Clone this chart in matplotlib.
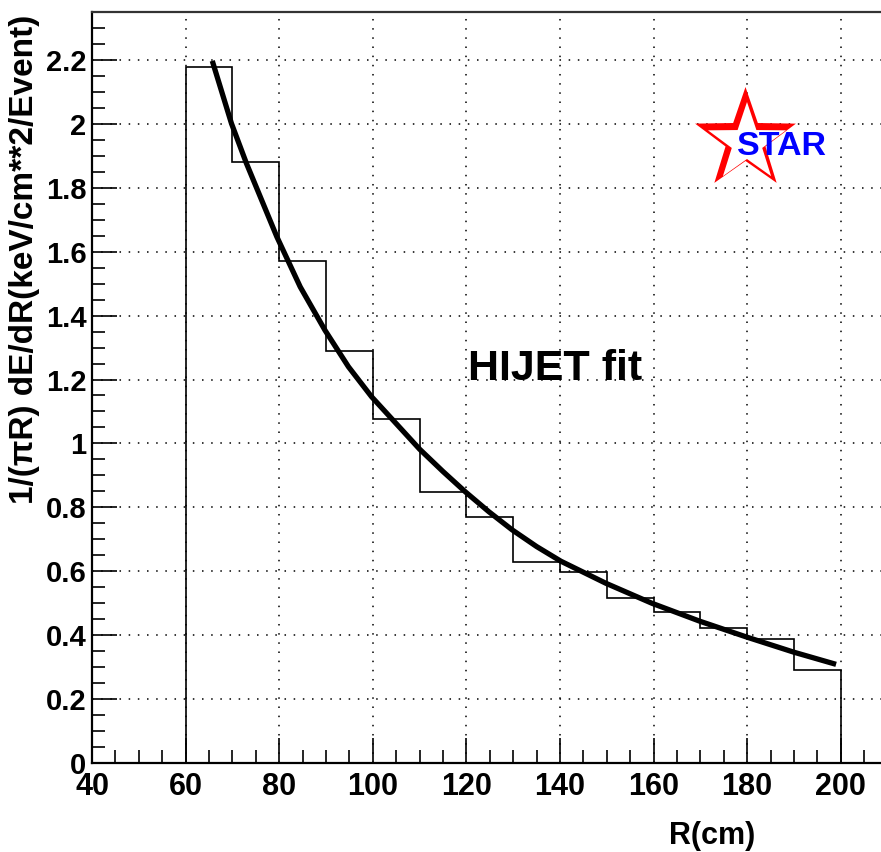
import numpy as np
import matplotlib
matplotlib.use('Agg')
import matplotlib.pyplot as plt
from matplotlib.patches import Polygon
from matplotlib.ticker import MultipleLocator, FuncFormatter

plt.rcParams['font.family'] = ['Liberation Sans', 'DejaVu Sans']
plt.rcParams['font.weight'] = 'bold'

# histogram (10 cm bins from 60 to 200)
bin_edges = [60, 70, 80, 90, 100, 110, 120, 130, 140, 150, 160, 170, 180, 190, 200]
hist_vals = [2.18, 1.88, 1.57, 1.29, 1.077, 0.847, 0.77, 0.627, 0.598, 0.517,
             0.471, 0.421, 0.387, 0.290]

# HIJET fit curve
fit_r = [65.7, 69.8, 73.0, 79.5, 84.5, 89.8, 94.8, 99.75, 105.0, 110.0, 115.0,
         119.8, 124.8, 129.8, 135.0, 140.2, 149.8, 159.7, 169.9, 180.0, 190.0, 199.0]
fit_v = [2.198, 2.002, 1.877, 1.647, 1.49, 1.354, 1.24, 1.146, 1.062, 0.982, 0.912,
         0.848, 0.786, 0.729, 0.677, 0.631, 0.562, 0.499, 0.443, 0.393, 0.346, 0.308]

W, H = 881, 852
fig = plt.figure(figsize=(W / 100, H / 100), dpi=100)
ax = fig.add_axes([92 / W, (H - 762.7) / H, (W - 92) / W, 750.7 / H])

ax.stairs(hist_vals, bin_edges, baseline=0, color='black', linewidth=1.2)
ax.plot(fit_r, fit_v, color='black', linewidth=3.8, solid_capstyle='butt')

ax.set_xlim(40, 208.6)
ax.set_ylim(0, 2.351)

ax.xaxis.set_major_locator(MultipleLocator(20))
ax.xaxis.set_minor_locator(MultipleLocator(5))
ax.yaxis.set_major_locator(MultipleLocator(0.2))
ax.yaxis.set_minor_locator(MultipleLocator(0.05))
ax.yaxis.set_major_formatter(FuncFormatter(lambda v, p: '%g' % round(v, 2)))

ax.tick_params(which='both', direction='in', width=1.2, top=False, right=False)
ax.tick_params(which='major', length=18)
ax.tick_params(which='minor', length=9.5)
ax.tick_params(axis='x', labelsize=22, pad=7)
ax.tick_params(axis='y', labelsize=21, pad=4)
for lab in ax.get_xticklabels() + ax.get_yticklabels():
    lab.set_fontweight('bold')

ax.grid(True, which='major', color='black', linestyle=(0, (1, 5)), linewidth=1.1)
ax.set_axisbelow(True)

for s in ['left', 'bottom']:
    ax.spines[s].set_linewidth(1.6)
ax.spines['top'].set_linewidth(1.6)
ax.spines['top'].set_color('#333333')
ax.spines['right'].set_visible(False)

ax.text(120.3, 1.198, 'HIJET fit', fontsize=31, fontweight='bold',
        ha='left', va='baseline')

fig.text(25 / W, 1 - 15 / H, '1/(πR) dE/dR(keV/cm**2/Event)', rotation=90,
         fontsize=24, fontweight='bold', ha='center', va='top')
fig.text(755 / W, 1 - 836 / H, 'R(cm)', fontsize=22, fontweight='bold',
         ha='right', va='center')


# STAR logo
def star_pts(cx, cy, r_out, r_in):
    pts = []
    for k in range(10):
        ang = np.pi / 2 + k * np.pi / 5
        r = r_out if k % 2 == 0 else r_in
        px = cx + r * np.cos(ang)
        py = cy - r * np.sin(ang)
        pts.append((px / W, 1 - py / H))
    return pts


cx, cy = 745.5, 140
fig.patches.append(Polygon(star_pts(cx, cy, 53, 21), closed=True, facecolor='red',
                           edgecolor='none', transform=fig.transFigure))
fig.patches.append(Polygon(star_pts(cx + 1.5, cy + 3, 41, 16), closed=True,
                           facecolor='white', edgecolor='none',
                           transform=fig.transFigure))
fig.text(781.5 / W, 1 - 155 / H, 'STAR', fontsize=24.5, fontweight='bold',
         color='#0000ff', ha='center', va='baseline')

fig.savefig('out.png', dpi=100)
